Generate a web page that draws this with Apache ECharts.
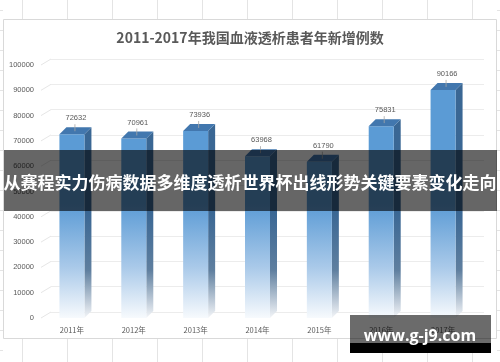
<!DOCTYPE html>
<html>
<head>
<meta charset="utf-8">
<script src="https://cdn.jsdelivr.net/npm/echarts@6/dist/echarts.min.js"></script>
<style>
html,body{margin:0;padding:0;background:#fff;}
#c{width:500px;height:362px;}
</style>
</head>
<body>
<div id="c"></div>
<script>
var categories = ['2011年','2012年','2013年','2014年','2015年','2016年','2017年'];
var values = [72632, 70961, 73936, 63968, 61790, 75831, 90166];
var yTicks = [0,10000,20000,30000,40000,50000,60000,70000,80000,90000,100000];
var titleText = '2011-2017年我国血液透析患者年新增例数';
var bannerText = '从赛程实力伤病数据多维度透析世界杯出线形势关键要素变化走向';
var watermarkText = 'www.g-j9.com';

var DX = 7, DY = 7, HALF = 12.5;
var chart = echarts.init(document.getElementById('c'), null, {renderer:'canvas'});

function renderBar(params, api) {
  var idx = api.value(0);
  var v = api.value(1);
  var top = api.coord([idx, v]);
  var base = api.coord([idx, 0]);
  var fadeStart = api.coord([idx, 45000])[1];
  var sideFade = api.coord([idx, 42000])[1];
  var x0 = top[0] - HALF, x1 = top[0] + HALF;
  var yT = top[1], yB = base[1];
  var frontGrad = {type:'linear', x:0, y:fadeStart, x2:0, y2:yB, global:true,
    colorStops:[{offset:0,color:'#5b9bd5'},{offset:0.55,color:'#a9c9e9'},{offset:1,color:'#f7fafd'}]};
  var sideGrad = {type:'linear', x:0, y:sideFade, x2:0, y2:yB, global:true,
    colorStops:[{offset:0,color:'#3a6794'},{offset:0.55,color:'#5f7f9f'},{offset:1,color:'#f3f5f8'}]};
  return {
    type:'group',
    children:[
      {type:'polygon', shape:{points:[[x1,yT],[x1+DX,yT-DY],[x1+DX,yB-DY],[x1,yB]]}, style:{fill:sideGrad}},
      {type:'rect', shape:{x:x0, y:yT, width:x1-x0, height:yB-yT}, style:{fill:frontGrad}},
      {type:'polygon', shape:{points:[[x0,yT],[x1,yT],[x1+DX,yT-DY],[x0+DX,yT-DY]]}, style:{fill:'#4277ae'}},
      {type:'line', shape:{x1:top[0]+3, y1:yT-3, x2:top[0]+3, y2:yT-10}, style:{stroke:'#a6a6a6', lineWidth:0.8}},
      {type:'text', style:{text:String(v), x:top[0]+4, y:yT-12, textAlign:'center', textVerticalAlign:'bottom',
        fill:'#595959', font:'7.5px "Liberation Sans", sans-serif'}}
    ]
  };
}

function renderConnector(params, api) {
  var v = api.value(0);
  var p = api.coord([0, v]);
  var x = 41;
  return {type:'line', shape:{x1:x, y1:p[1], x2:x+10, y2:p[1]-6}, style:{stroke:'#e6e6e6', lineWidth:1}};
}

var sheetLines = [];
for (var k = 0; k < 11; k++) {
  var xx = 22 + 45*k + 0.5;
  sheetLines.push({type:'line', shape:{x1:xx,y1:0,x2:xx,y2:19}, style:{stroke:'#e4e4e4',lineWidth:1}, z:0});
  sheetLines.push({type:'line', shape:{x1:xx,y1:339,x2:xx,y2:362}, style:{stroke:'#e4e4e4',lineWidth:1}, z:0});
}
for (var r = 0; r < 18; r++) {
  var yy = 10 + 20*r + 0.5;
  sheetLines.push({type:'line', shape:{x1:0,y1:yy,x2:3,y2:yy}, style:{stroke:'#e4e4e4',lineWidth:1}, z:0});
  sheetLines.push({type:'line', shape:{x1:497,y1:yy,x2:500,y2:yy}, style:{stroke:'#e4e4e4',lineWidth:1}, z:0});
}

var option = {
  animation:false,
  backgroundColor:'#ffffff',
  title:{text:titleText, left:'center', top:26,
    textStyle:{color:'#595959', fontSize:14, fontWeight:'bold', fontFamily:'"Noto Sans CJK SC", sans-serif'}},
  grid:[
    {left:41, right:26, top:65, bottom:44},
    {left:51, right:16, top:59, bottom:50}
  ],
  xAxis:[
    {type:'category', data:categories, gridIndex:0,
     axisLine:{show:false}, axisTick:{show:false},
     axisLabel:{color:'#595959', fontSize:7.5, margin:8, fontFamily:'"Noto Sans CJK SC", sans-serif'}},
    {type:'category', data:categories, gridIndex:1, show:false}
  ],
  yAxis:[
    {type:'value', min:0, max:100000, interval:10000, gridIndex:0,
     axisLine:{show:false}, axisTick:{show:false}, splitLine:{show:false},
     axisLabel:{color:'#595959', fontSize:7.5, margin:7, fontFamily:'"Liberation Sans", sans-serif',
       formatter:function(v){return String(v);}}},
    {type:'value', min:0, max:100000, interval:10000, gridIndex:1,
     axisLine:{show:false}, axisTick:{show:false}, axisLabel:{show:false},
     splitLine:{show:true, lineStyle:{color:'#ececec', width:1}}}
  ],
  series:[
    {type:'custom', xAxisIndex:0, yAxisIndex:0, renderItem:renderConnector,
     data:yTicks.map(function(t){return [t];}), encode:{y:0}, silent:true, z:1},
    {type:'custom', xAxisIndex:0, yAxisIndex:0, renderItem:renderBar,
     data:values.map(function(v,i){return [i,v];}), encode:{x:0,y:1}, z:3}
  ],
  graphic:[
    {type:'group', z:-10, children:sheetLines.concat([
      {type:'rect', shape:{x:3.5,y:19.5,width:493,height:319}, style:{fill:'#fff', stroke:'#d9d9d9', lineWidth:1}, z:-1}
    ])},
    {type:'rect', z:100, shape:{x:4, y:150, width:493, height:61}, style:{fill:'rgba(0,0,0,0.6)'}},
    {type:'text', z:101, style:{text:bannerText, x:250, y:183, textAlign:'center', textVerticalAlign:'middle',
      fill:'#ffffff', font:'bold 17px "Noto Sans CJK SC", sans-serif'}},
    {type:'rect', z:100, shape:{x:350, y:315, width:141, height:28}, style:{fill:'rgba(0,0,0,0.58)'}},
    {type:'rect', z:100, shape:{x:350, y:343, width:141, height:10}, style:{fill:'#000000'}},
    {type:'text', z:101, style:{text:watermarkText, x:420, y:336, textAlign:'center', textVerticalAlign:'middle',
      fill:'#ffffff', font:'bold 16px "Open Sans", sans-serif'}}
  ]
};
chart.setOption(option);
</script>
</body>
</html>
